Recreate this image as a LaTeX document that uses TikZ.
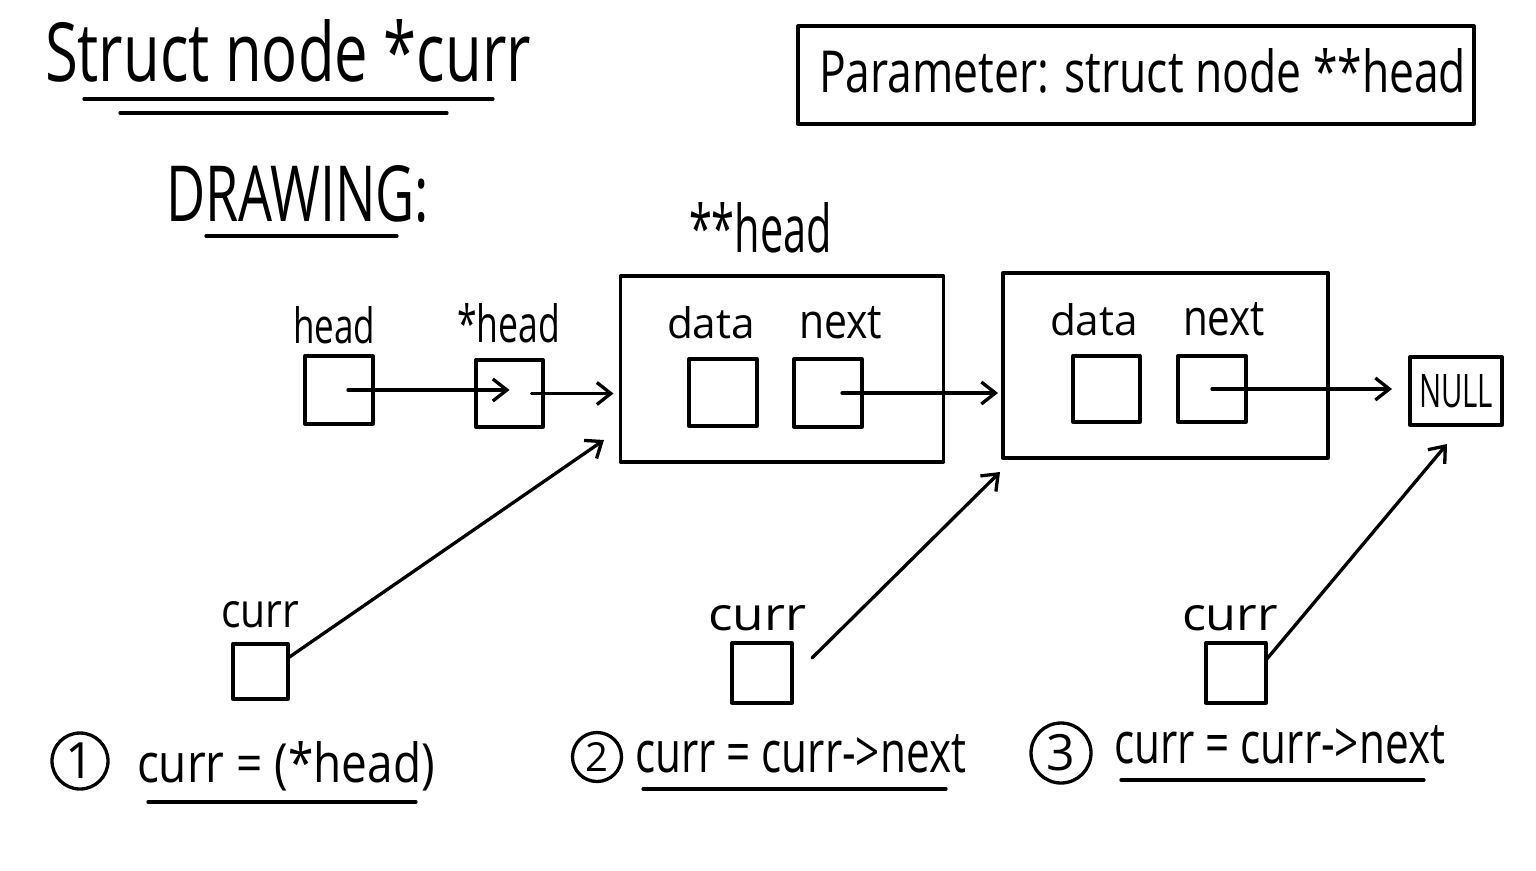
\documentclass[tikz,border=0pt]{standalone}
\usepackage{fontspec}
\setmainfont{Open Sans}
\usepackage{graphicx}
\usetikzlibrary{arrows.meta,calc}
\newcommand\hw[3]{\resizebox{#1pt}{#2pt}{#3}}
\begin{document}
\begin{tikzpicture}[x=1pt,y=-1pt,line width=3.3pt,line cap=round,line join=round,
  box/.style={draw,rectangle,inner sep=0pt,outer sep=0pt},
  lbl/.style={anchor=base west,inner sep=0pt,outer sep=0pt},
  arr/.style={-{Straight Barb[length=14pt,width=22pt,line width=3.3pt]}},
  num/.style={draw,circle,inner sep=0pt,font=\fontsize{50}{50}\selectfont}]
\useasboundingbox (0,0) rectangle (1536,870);

% title
\node[lbl] (title) at (45,81) {\hw{486}{62}{Struct node *curr}};
\draw (84,99) -- (493,99);
\draw (120,113) -- (447,113);
\node[lbl] (drawing) at (166,221) {\hw{263}{56}{DRAWING:}};
\draw (206,236) -- (397,236);

% parameter box
\node[box,minimum width=676pt,minimum height=98pt] (param) at (1136,75) {};
\node[lbl] (paramtxt) at (819,92) {\hw{647}{44}{Parameter: struct node **head}};

% pointer boxes
\node[box,minimum width=68pt,minimum height=68pt] (hb) at (339,390) {};
\node[lbl] (hbl) at (293,343) {\hw{82}{37}{head}};
\node[box,minimum width=67pt,minimum height=67pt] (shb) at (509.5,393.5) {};
\node[lbl] (shbl) at (457,342) {\hw{103}{39}{*head}};

% node 1
\node[lbl] (n1l) at (689,252) {\hw{143}{50}{**head}};
\node[box,minimum width=323pt,minimum height=186pt] (n1) at (782,369) {};
\node[box,minimum width=68pt,minimum height=67pt] (d1) at (723,392.5) {};
\node[box,minimum width=68pt,minimum height=68pt] (x1) at (828,393) {};
\node[lbl] (d1l) at (667,338) {\hw{88}{32}{data}};
\node[lbl] (x1l) at (799,338) {\hw{83}{32}{next}};

% node 2
\node[box,minimum width=325pt,minimum height=185pt] (n2) at (1165.5,365.5) {};
\node[box,minimum width=67pt,minimum height=66pt] (d2) at (1106.5,389) {};
\node[box,minimum width=68pt,minimum height=66pt] (x2) at (1212,389) {};
\node[lbl] (d2l) at (1050,335) {\hw{88}{32}{data}};
\node[lbl] (x2l) at (1183,335) {\hw{82}{33}{next}};

% NULL
\node[box,minimum width=92pt,minimum height=68pt] (nul) at (1456,391) {\hw{74}{33}{NULL}};

% arrows along the list
\draw[arr] ([xshift=9pt]hb.center) -- (hb.center -| shb.center);
\draw[arr] ([xshift=22pt]shb.center) -- ([xshift=-7pt]shb.center -| n1.west);
\draw[arr] ([xshift=14pt]x1.center) -- ([xshift=-5pt]x1.center -| n2.west);
\draw[arr] (x2.center) -- ([xshift=-18pt]x2.center -| nul.west);

% curr boxes
\node[box,minimum width=55pt,minimum height=55pt] (c1) at (260.5,671.5) {};
\node[lbl] (c1l) at (221,627) {\hw{78}{26}{curr}};
\node[box,minimum width=60pt,minimum height=60pt] (c2) at (762,673) {};
\node[lbl] (c2l) at (708,630) {\hw{98}{25}{curr}};
\node[box,minimum width=60pt,minimum height=60pt] (c3) at (1236,673) {};
\node[lbl] (c3l) at (1182,630) {\hw{96}{25}{curr}};

\coordinate (t1) at (604,440);
\coordinate (t2) at (1000,472);
\coordinate (t3) at (1447,444);
\coordinate (s2) at (812,658);
\draw[arr] ([yshift=-14pt]c1.north east) -- (t1);
\draw[arr] (s2) -- (t2);
\draw[arr] ([yshift=-17pt]c3.north east) -- (t3);

% steps
\node[num,minimum size=56pt] (st1) at (80,761) {1};
\node[lbl] (st1t) at (137,782) {\hw{298}{41}{curr = (*head)}};
\draw (148,802) -- (416,802);
\node[num,minimum size=49pt,font=\fontsize{40}{40}\selectfont] (st2) at (597,757) {2};
\node[lbl] (st2t) at (635,772) {\hw{331}{38}{curr = curr->next}};
\draw (643,789) -- (946,789);
\node[num,minimum size=60pt] (st3) at (1061,753) {3};
\node[lbl] (st3t) at (1114,763) {\hw{331}{38}{curr = curr->next}};
\draw (1121,780) -- (1424,780);
\end{tikzpicture}
\end{document}
